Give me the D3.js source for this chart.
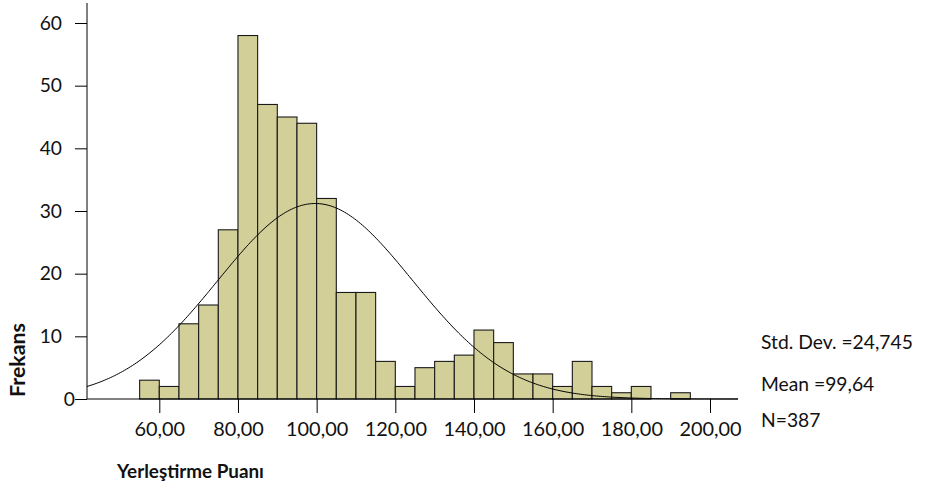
<!DOCTYPE html>
<html><head><meta charset="utf-8">
<script src="https://cdn.jsdelivr.net/npm/d3@7"></script>
<style>body{margin:0;background:#fff}svg text{font-family:Lato,"Open Sans",sans-serif}</style>
</head><body><svg id="c" width="925" height="491"></svg>
<script>
const binStarts = [55,60,65,70,75,80,85,90,95,100,105,110,115,120,125,130,135,140,145,150,155,160,165,170,175,180,185,190];
const counts    = [3,2,12,15,27,58,47,45,44,32,17,17,6,2,5,6,7,11,9,4,4,2,6,2,1,2,0,1];
const binWidth = 5;
const xTicks = [60,80,100,120,140,160,180,200];
const yTicks = [0,10,20,30,40,50,60];
const stats = {mean:99.64, sd:24.745, n:387};
const statLabels = ["Std. Dev. =24,745","Mean =99,64","N=387"];
const xTitle = "Yerleştirme Puanı", yTitle = "Frekans";

const svg = d3.select("#c");
const x = d3.scaleLinear().domain([60,200]).range([159.3,710]);
const y = d3.scaleLinear().domain([0,60]).range([399,23]);
const x0 = x.invert(87), x1 = x.invert(738);

function fit(sel, target){
  const fs = +sel.attr("font-size");
  const w = sel.node().getComputedTextLength();
  if (w>0) sel.attr("font-size", fs*target/w);
}

// bars
svg.append("g").selectAll("rect").data(binStarts.map((s,i)=>({s,c:counts[i]})).filter(d=>d.c>0))
 .join("rect")
 .attr("x",d=>x(d.s)).attr("width",d=>x(d.s+binWidth)-x(d.s))
 .attr("y",d=>y(d.c)).attr("height",d=>y(0)-y(d.c))
 .attr("fill","#d3cf99").attr("stroke","#1a1a1a").attr("stroke-width",1.1);

// normal curve
const pts = d3.range(x0, x1+0.01, 0.5).map(v=>[v, stats.n*binWidth/(stats.sd*Math.sqrt(2*Math.PI))*Math.exp(-0.5*((v-stats.mean)/stats.sd)**2)]);
svg.append("path").datum(pts).attr("d",d3.line().x(d=>x(d[0])).y(d=>y(d[1])))
 .attr("fill","none").attr("stroke","#000").attr("stroke-width",1);

// y axis
const gy = svg.append("g").attr("transform","translate(87,0)")
 .call(d3.axisLeft(y).tickValues(yTicks).tickFormat(d3.format("d")).tickSize(12).tickPadding(13));
gy.select(".domain").remove();
gy.append("line").attr("x1",0).attr("x2",0).attr("y1",3).attr("y2",399).attr("stroke","#000");
gy.selectAll(".tick line").attr("stroke","#000");
gy.selectAll(".tick text").attr("font-size",20).attr("fill","#111").attr("font-family","Lato");
gy.selectAll(".tick text").filter(d=>d===60).each(function(){ fit(d3.select(this), 22.3); });
const yfs = gy.selectAll(".tick text").filter(d=>d===60).attr("font-size");
gy.selectAll(".tick text").attr("font-size",yfs);
gy.selectAll(".tick text").filter(d=>d===0).attr("x",-12).attr("dy","0.35em");

// x axis
const gx = svg.append("g").attr("transform","translate(0,399)")
 .call(d3.axisBottom(x).tickValues(xTicks).tickFormat(d=>d3.format(".2f")(d).replace(".",",")).tickSize(14).tickPadding(9));
gx.select(".domain").remove();
gx.append("line").attr("x1",87).attr("x2",738).attr("y1",0).attr("y2",0).attr("stroke","#000");
gx.selectAll(".tick line").attr("stroke","#000");
gx.selectAll(".tick text").attr("font-size",20).attr("fill","#111").attr("font-family","Lato");
gx.selectAll(".tick text").filter(d=>d===60).each(function(){ fit(d3.select(this), 50.7); });
const xfs = gx.selectAll(".tick text").filter(d=>d===60).attr("font-size");
gx.selectAll(".tick text").attr("font-size",xfs);

// titles
const xt = svg.append("text").attr("x",117).attr("y",478).attr("font-size",18).attr("font-weight","bold").attr("fill","#111").text(xTitle);
fit(xt,147);
const yt = svg.append("text").attr("transform","translate(25,360) rotate(-90)").attr("text-anchor","middle")
 .attr("font-size",18).attr("font-weight","bold").attr("fill","#111").text(yTitle);
fit(yt,74);

// stats
const sy = [349,391,427];
const st = svg.selectAll(".st").data(statLabels).join("text").attr("class","st")
 .attr("x",761).attr("y",(d,i)=>sy[i]).attr("font-size",18).attr("fill","#111").text(d=>d);
fit(st.filter((d,i)=>i===0),152);
st.attr("font-size", st.filter((d,i)=>i===0).attr("font-size"));
</script></body></html>
